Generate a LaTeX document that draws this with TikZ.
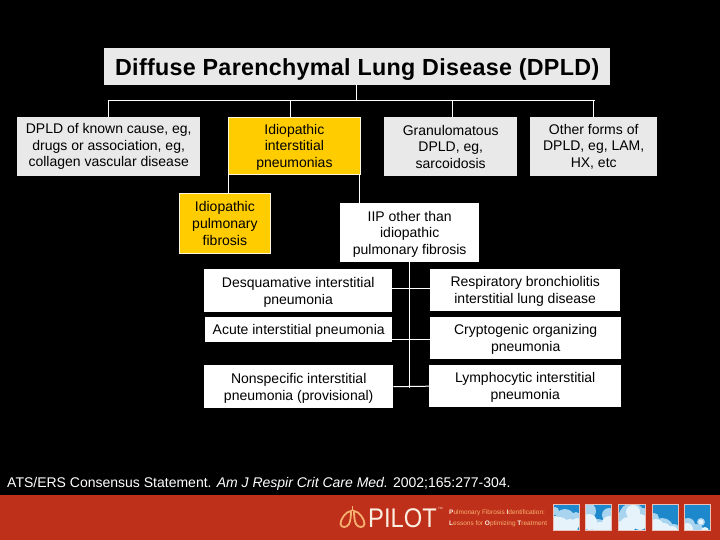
\documentclass[tikz,border=0pt]{standalone}
\usepackage{graphicx}
\usepackage{fontspec}
\setmainfont{Liberation Sans}
\usetikzlibrary{positioning, calc}
\definecolor{boxgray}{HTML}{E9E9E9}
\definecolor{iipyellow}{HTML}{FFCC00}
\definecolor{pilotred}{HTML}{BF301B}
\definecolor{pilotorange}{HTML}{F6B070}
\definecolor{pilotcream}{HTML}{FBEDE0}
\definecolor{skyblue}{HTML}{1E88CC}
\definecolor{cloudsoft}{HTML}{A8D4F0}
\definecolor{cloudwhite}{HTML}{E6F3FB}
\definecolor{skyedge}{HTML}{EBC0B8}
\tikzset{
  pxbox/.style={anchor=north west, inner sep=0pt, align=center, text=black, font=\fontsize{14}{16.6}\selectfont},
  graybox/.style={pxbox, fill=boxgray},
  yellowbox/.style={pxbox, fill=iipyellow, draw=white!85!iipyellow, line width=0.8pt},
  whitebox/.style={pxbox, fill=white},
  dropped/.style={text depth=0pt},
  conn/.style={white, line width=1pt},
  skypic/.style={draw=skyedge, line width=0.9pt},
  tagline/.style={anchor=base west, inner sep=0pt, text=pilotorange, font=\fontsize{6.5}{7}\selectfont}
}
\newcommand{\tagcap}[1]{\textcolor{pilotcream}{\bfseries #1}}
\begin{document}
\begin{tikzpicture}[x=1pt, y=-1pt]
\useasboundingbox (0,0) rectangle (720,540);
\fill[black] (0,0) rectangle (720,540);
\fill[pilotred] (0,494.5) rectangle (720,540);

% boxes
\node[graybox, minimum width=506pt, minimum height=37pt, font=\fontsize{23.3}{26}\selectfont\bfseries\addfontfeature{LetterSpace=1.3}, execute at begin node={\rule{0pt}{23pt}}] (title) at (104,48) {Diffuse Parenchymal Lung Disease (DPLD)};
\node[graybox, minimum width=183pt, minimum height=59pt] (known) at (17,117) {DPLD of known cause, eg,\\drugs or association, eg,\\collagen vascular disease};
\node[yellowbox, dropped, minimum width=132pt, minimum height=57pt] (iip) at (228,117) {Idiopathic\\interstitial\\pneumonias};
\node[graybox, minimum width=133pt, minimum height=59pt] (gran) at (384,117) {Granulomatous\\DPLD, eg,\\sarcoidosis};
\node[graybox, minimum width=127pt, minimum height=59pt] (other) at (530,117) {Other forms of\\DPLD, eg, LAM,\\HX, etc};
\node[yellowbox, minimum width=91pt, minimum height=59pt] (ipf) at (179,193.5) {Idiopathic\\pulmonary\\fibrosis};
\node[whitebox, dropped, minimum width=139pt, minimum height=59pt] (nonipf) at (340,203) {IIP other than\\idiopathic\\pulmonary fibrosis};
\node[whitebox, dropped, minimum width=188pt, minimum height=43pt] (desq) at (204,269) {Desquamative interstitial\\pneumonia};
\node[whitebox, dropped, minimum width=190pt, minimum height=42pt] (resp) at (430,269) {Respiratory bronchiolitis\\interstitial lung disease};
\node[whitebox, dropped, minimum width=187pt, minimum height=25pt] (acute) at (205,317) {Acute interstitial pneumonia};
\node[whitebox, dropped, minimum width=191pt, minimum height=42pt] (crypt) at (430,317) {Cryptogenic organizing\\pneumonia};
\node[whitebox, dropped, minimum width=189pt, minimum height=43pt] (nsip) at (204,365) {Nonspecific interstitial\\pneumonia (provisional)};
\node[whitebox, dropped, minimum width=192pt, minimum height=42pt] (lymph) at (429,365) {Lymphocytic interstitial\\pneumonia};

% connectors
\coordinate (busleft) at (108,100.5);
\coordinate (busright) at (595,100.5);
\coordinate (busmid) at (356.5,100.5);
\coordinate (busknown) at (108.5,100.5);
\coordinate (busiip) at (290,100.5);
\coordinate (busgran) at (452,100.5);
\coordinate (busother) at (593,100.5);
\coordinate (iipleft) at (228.5,174);
\coordinate (iipright) at (359.5,174);
\coordinate (nonipfup) at (359.5,203);
\coordinate (trunk) at (409.5,262);
\coordinate (trunkend) at (409.5,388);
\draw[conn] (busmid |- title.south) -- (busmid);
\draw[conn] (busleft) -- (busright);
\draw[conn] (busknown) -- (busknown |- known.north);
\draw[conn] (busiip) -- (busiip |- iip.north);
\draw[conn] (busgran) -- (busgran |- gran.north);
\draw[conn] (busother) -- (busother |- other.north);
\draw[conn] (iipleft) -- (iipleft |- ipf.north);
\draw[conn] (iipright) -- (nonipfup);
\draw[conn] (trunk) -- (trunkend);
\draw[conn] ($(desq.east)+(0,-2.5)$) -- ($(resp.west)+(0,-2)$);
\draw[conn] ($(acute.east)+(0,9.5)$) -- ($(crypt.west)+(0,1)$);
\draw[conn] (nsip.east) -- (lymph.west);

% citation
\node[anchor=base west, inner sep=0pt, text=white, font=\fontsize{14}{16}\selectfont] (cite) at (7,487) {ATS/ERS Consensus Statement. \textit{Am J Respir Crit Care Med.} 2002;165:277-304.};

% logo
\draw[pilotorange, line width=1.8pt] (351,511) .. controls (346,511) and (340,520) .. (340.5,524) .. controls (341,528) and (347,528) .. (349,524) .. controls (350.5,521) and (351,516) .. (351,511) -- cycle;
\draw[pilotorange, line width=1.8pt] (354,511) .. controls (359,511) and (365,520) .. (364.5,524) .. controls (364,528) and (358,528) .. (356,524) .. controls (354.5,521) and (354,516) .. (354,511) -- cycle;
\draw[pilotorange, line width=1.8pt] (352.5,506) -- (352.5,511);
\node[anchor=base west, inner sep=0pt, text=pilotcream, font=\fontsize{27}{29}\selectfont] (pilot) at (368,527) {\scalebox{0.88}[1]{PILOT}};
\node[anchor=north west, inner sep=0pt, text=pilotcream, font=\fontsize{3}{3}\selectfont] (tm) at (438,507) {TM};
\node[tagline] (tagone) at (449,514.5) {\tagcap{P}ulmonary Fibrosis \tagcap{I}dentification:};
\node[tagline] (tagtwo) at (449,525.5) {\tagcap{L}essons for \tagcap{O}ptimizing \tagcap{T}reatment};

% sky pictures
\begin{scope}
\clip (553,504) rectangle (579,530);
\fill[skyblue] (553,504) rectangle (579,530);
\foreach \cx/\cy/\rad in {565/519/10, 555/511/4, 576/517/5} \fill[cloudsoft] (\cx,\cy) circle (\rad);
\foreach \cx/\cy/\rad in {560/525/8, 570/527/8, 555/521/5, 577/523/5} \fill[cloudwhite] (\cx,\cy) circle (\rad);
\end{scope}
\begin{scope}
\clip (585,504) rectangle (611,530);
\fill[skyblue] (585,504) rectangle (611,530);
\foreach \cx/\cy/\rad in {588/511/8, 609/515/7, 598/529/10} \fill[cloudsoft] (\cx,\cy) circle (\rad);
\foreach \cx/\cy/\rad in {589/522/8, 600/529/7, 609/523/7} \fill[cloudwhite] (\cx,\cy) circle (\rad);
\end{scope}
\begin{scope}
\clip (618,504) rectangle (645,530);
\fill[skyblue] (618,504) rectangle (645,530);
\foreach \cx/\cy/\rad in {632/516/13, 622/520/8, 643/514/6} \fill[cloudsoft] (\cx,\cy) circle (\rad);
\foreach \cx/\cy/\rad in {633/512/7, 628/525/8, 640/522/8, 622/527/6} \fill[cloudwhite] (\cx,\cy) circle (\rad);
\end{scope}
\begin{scope}
\clip (652,504) rectangle (678,530);
\fill[skyblue] (652,504) rectangle (678,530);
\foreach \cx/\cy/\rad in {654/518/5, 662/530/12, 674/530/6} \fill[cloudsoft] (\cx,\cy) circle (\rad);
\foreach \cx/\cy/\rad in {656/527/8, 664/530/7, 672/532/6} \fill[cloudwhite] (\cx,\cy) circle (\rad);
\end{scope}
\begin{scope}
\clip (684,504) rectangle (710,530);
\fill[skyblue] (684,504) rectangle (710,530);
\foreach \cx/\cy/\rad in {688/525/7, 701/522/4, 696/532/8} \fill[cloudsoft] (\cx,\cy) circle (\rad);
\foreach \cx/\cy/\rad in {687/529/6, 701/522/2.5, 705/531/4} \fill[cloudwhite] (\cx,\cy) circle (\rad);
\end{scope}
\foreach \xpos/\xend in {553/579, 585/611, 618/645, 652/678, 684/710} {
  \draw[skypic] (\xpos,504) rectangle (\xend,530);
}
\end{tikzpicture}
\end{document}
